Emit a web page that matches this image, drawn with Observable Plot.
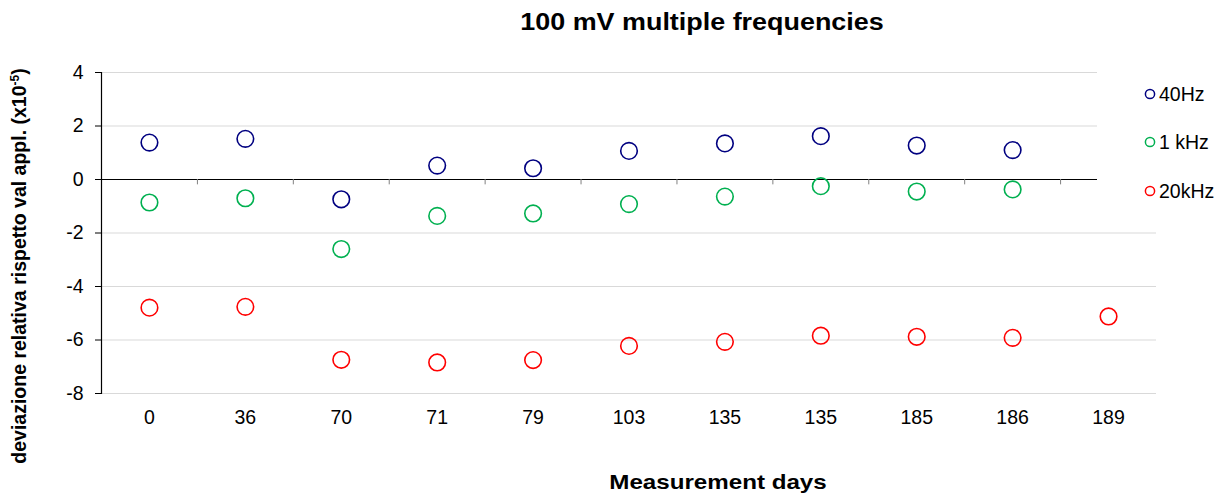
<!DOCTYPE html>
<html>
<head>
<meta charset="utf-8">
<script src="https://cdn.jsdelivr.net/npm/d3@7"></script>
<script src="https://cdn.jsdelivr.net/npm/@observablehq/plot@0.6"></script>
<style>
  body { margin: 0; background: #fff; font-family: "Liberation Sans", Arial, sans-serif; }
  #wrap { position: relative; width: 1225px; height: 498px; overflow: hidden; }
  #title { height: 50px; position: relative; }
  #title span { position: absolute; left: 702px; top: 22px; transform: translate(-50%, -50%) scaleX(1.17); white-space: nowrap; font-weight: bold; font-size: 23px; color: #000; }
  #xtitle { position: absolute; left: 718px; top: 482px; transform: translate(-50%, -50%) scaleX(1.15); white-space: nowrap; font-weight: bold; font-size: 21px; }
  #ytitle { position: absolute; left: 19px; top: 266px; transform: translate(-50%, -50%) rotate(-90deg); white-space: nowrap; font-weight: bold; font-size: 19.5px; }
  #ytitle sup { font-size: 12px; vertical-align: 7px; }
  #legend { position: absolute; left: 1097px; top: 62px; width: 128px; height: 160px; background: #fff; }
  .li { position: absolute; left: 47px; height: 24px; display: flex; align-items: center; font-size: 19.5px; white-space: nowrap; }
  .li svg { margin-right: 3px; }
</style>
</head>
<body>
<div id="wrap">
  <div id="title"><span>100 mV multiple frequencies</span></div>
  <div id="chart"></div>
  <div id="ytitle">deviazione relativa rispetto val appl. (x10<sup>-5</sup>)</div>
  <div id="xtitle">Measurement days</div>
  <div id="legend"></div>
</div>
<script>
const categories = ["0", "36", "70", "71", "79", "103", "135", "135", "185", "186", "189"];
const seriesNames = ["40Hz", "1 kHz", "20kHz"];
const seriesColors = ["#000080", "#00b050", "#ff0000"];
const hz40 = [1.38, 1.52, -0.74, 0.52, 0.42, 1.07, 1.35, 1.62, 1.27, 1.10, null];
const khz1 = [-0.86, -0.70, -2.60, -1.36, -1.27, -0.92, -0.64, -0.25, -0.45, -0.37, null];
const khz20 = [-4.79, -4.76, -6.74, -6.84, -6.75, -6.22, -6.07, -5.84, -5.88, -5.92, -5.12];
const yTicks = [-8, -6, -4, -2, 0, 2, 4];

const allSeries = [hz40, khz1, khz20];
const rows = [];
allSeries.forEach((vals, s) => {
  vals.forEach((v, i) => { if (v !== null) rows.push({i, v, series: seriesNames[s]}); });
});
const idx = categories.map((_, i) => i);
const boundaries = categories.slice(1).map((_, i) => i + 0.5);

const chart = Plot.plot({
  width: 1225,
  height: 410,
  marginLeft: 101,
  marginRight: 69,
  marginTop: 22,
  marginBottom: 67,
  style: {fontFamily: "'Liberation Sans', Arial, sans-serif", fontSize: "19.5px", color: "#000", background: "#fff"},
  x: {type: "linear", domain: [-0.5, categories.length - 0.5]},
  y: {domain: [-8, 4]},
  color: {domain: seriesNames, range: seriesColors},
  marks: [
    Plot.gridY(yTicks, {stroke: "#d9d9d9", strokeOpacity: 1, strokeWidth: 1.2}),
    Plot.ruleY([0], {stroke: "#000", strokeWidth: 1.2}),
    Plot.ruleX(boundaries, {y1: 0, y2: -0.2, stroke: "#808080", strokeWidth: 1}),
    Plot.frame({anchor: "left", stroke: "#000", strokeWidth: 1.2}),
    Plot.axisY(yTicks, {tickSize: 6, tickPadding: 12, label: null, fontSize: 19.5, stroke: "#000", tickFormat: d => String(d)}),
    Plot.axisX(idx, {tickSize: 0, tickPadding: 17, label: null, fontSize: 19.5, tickFormat: i => categories[i]}),
    Plot.dot(rows, {x: "i", y: "v", stroke: "series", r: 8.3, strokeWidth: 1.6, fill: "none"})
  ]
});
document.getElementById("chart").appendChild(chart);

const legend = document.getElementById("legend");
const legendTops = [20, 68, 117];
seriesNames.forEach((name, s) => {
  const d = document.createElement("div");
  d.className = "li";
  d.style.top = legendTops[s] + "px";
  d.innerHTML = `<svg width="12" height="12"><circle cx="6" cy="6" r="4.6" fill="none" stroke="${seriesColors[s]}" stroke-width="1.5"/></svg><span>${name}</span>`;
  legend.appendChild(d);
});
</script>
</body>
</html>
